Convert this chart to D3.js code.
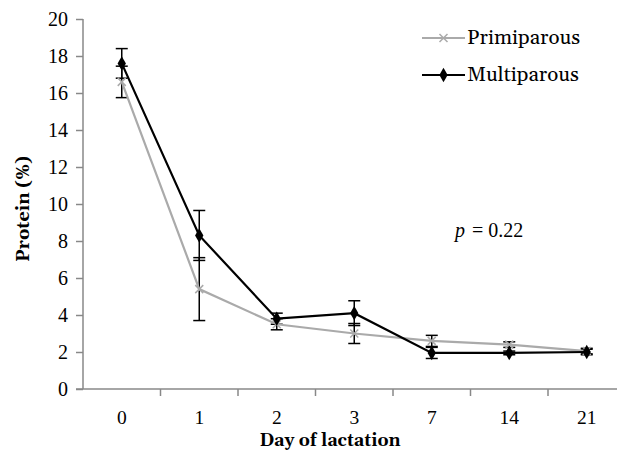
<!DOCTYPE html>
<html><head><meta charset="utf-8">
<script src="https://cdn.jsdelivr.net/npm/d3@7"></script>
<style>body{margin:0;background:#fff}svg{display:block}</style>
</head><body><svg id="c" width="617" height="452"></svg>
<script>
const days = ["0","1","2","3","7","14","21"];
const primiparous = [16.6, 5.4, 3.5, 3.0, 2.6, 2.4, 2.05];
const primiparousErr = [0.85, 1.7, 0.3, 0.54, 0.3, 0.15, 0.15];
const multiparous = [17.6, 8.3, 3.8, 4.1, 1.95, 1.95, 2.0];
const multiparousErr = [0.8, 1.35, 0.3, 0.67, 0.3, 0.1, 0.15];
const yTicks = [0,2,4,6,8,10,12,14,16,18,20];

const NUMFONT = "'Liberation Serif', monospace";
const WORDFONT = "'Gelasio', 'Liberation Serif', monospace";
const svg = d3.select("#c");
const x = d3.scaleBand().domain(days).range([83, 625.5]);
const y = d3.scaleLinear().domain([0,20]).range([389, 19]);
const axisColor = "#888";

// y axis
const ya = svg.append("g").attr("transform","translate(83,0)")
  .call(d3.axisLeft(y).tickValues(yTicks).tickSize(7).tickPadding(8).tickFormat(d3.format("d")));
ya.attr("font-family", null).attr("font-size", null);
ya.select(".domain").attr("stroke",axisColor).attr("stroke-width",1.5).attr("d","M0,19V389");
ya.selectAll(".tick line").attr("stroke",axisColor).attr("stroke-width",1.5);
ya.selectAll(".tick text").style("font-family",NUMFONT).style("font-size","20px").attr("fill","#000");

// x axis
const xa = svg.append("g").attr("transform","translate(0,389)")
  .call(d3.axisBottom(x).tickSize(0).tickPadding(21));
xa.attr("font-family", null).attr("font-size", null);
xa.select(".domain").attr("stroke",axisColor).attr("stroke-width",1.5).attr("d","M76,0H625");
xa.selectAll(".tick text").style("font-family",NUMFONT).style("font-size","19.5px").attr("fill","#000");
const bounds = days.map((d,i)=>x(d)).concat([x.range()[1]]);
xa.selectAll(".bt").data(bounds.slice(1)).enter().append("line").attr("class","bt")
  .attr("x1",d=>d).attr("x2",d=>d).attr("y1",0).attr("y2",7)
  .attr("stroke",axisColor).attr("stroke-width",1.5);

const cx = d => x(d) + x.bandwidth()/2;

function errBars(vals, errs){
  const g = svg.append("g").attr("stroke","#000").attr("stroke-width",1.5);
  days.forEach((d,i)=>{
    const xc = cx(d), y1 = y(vals[i]-errs[i]), y2 = y(vals[i]+errs[i]);
    g.append("line").attr("x1",xc).attr("x2",xc).attr("y1",y1).attr("y2",y2);
    g.append("line").attr("x1",xc-6).attr("x2",xc+6).attr("y1",y1).attr("y2",y1);
    g.append("line").attr("x1",xc-6).attr("x2",xc+6).attr("y1",y2).attr("y2",y2);
  });
}
errBars(primiparous, primiparousErr);
errBars(multiparous, multiparousErr);

const line = d3.line().x((v,i)=>cx(days[i])).y(v=>y(v));
const gray = "#aaaaaa";
svg.append("path").datum(primiparous).attr("d",line).attr("fill","none").attr("stroke",gray).attr("stroke-width",2.2);
svg.append("path").datum(multiparous).attr("d",line).attr("fill","none").attr("stroke","#000").attr("stroke-width",2.2);

const xMark = "M-4,-4L4,4M-4,4L4,-4";
svg.selectAll(".pm").data(primiparous).enter().append("path")
  .attr("transform",(v,i)=>`translate(${cx(days[i])},${y(v)})`).attr("d",xMark)
  .attr("stroke",gray).attr("stroke-width",1.5).attr("fill","none");
const diamond = d3.symbol().type(d3.symbolDiamond).size(60)();
svg.selectAll(".mm").data(multiparous).enter().append("path")
  .attr("transform",(v,i)=>`translate(${cx(days[i])},${y(v)})`).attr("d",diamond).attr("fill","#000");

// legend
const lg = svg.append("g");
lg.append("line").attr("x1",422).attr("x2",465).attr("y1",38).attr("y2",38).attr("stroke",gray).attr("stroke-width",2.2);
lg.append("path").attr("transform","translate(443.5,38)").attr("d",xMark).attr("stroke",gray).attr("stroke-width",1.5);
lg.append("text").attr("x",467).attr("y",44).style("font-family",WORDFONT).style("font-size","20.5px").text("Primiparous");
lg.append("line").attr("x1",422).attr("x2",465).attr("y1",75).attr("y2",75).attr("stroke","#000").attr("stroke-width",2.2);
lg.append("path").attr("transform","translate(443.5,75)").attr("d",diamond).attr("fill","#000");
lg.append("text").attr("x",467).attr("y",81).style("font-family",WORDFONT).style("font-size","20.5px").text("Multiparous");

// p value
const pt = svg.append("text").attr("x",455).attr("y",237).style("font-family",NUMFONT).style("font-size","20px");
pt.append("tspan").style("font-style","italic").text("p");
pt.append("tspan").attr("dx",2).text(" = 0.22");

// axis titles
svg.append("text").attr("x",330).attr("y",446).attr("text-anchor","middle").style("font-family",WORDFONT)
  .style("font-size","17.5px").style("font-weight","bold").text("Day of lactation");
svg.append("text").attr("transform","translate(29,209) rotate(-90)").attr("text-anchor","middle").style("font-family",WORDFONT)
  .style("font-size","18px").style("font-weight","bold").text("Protein (%)");
</script></body></html>
